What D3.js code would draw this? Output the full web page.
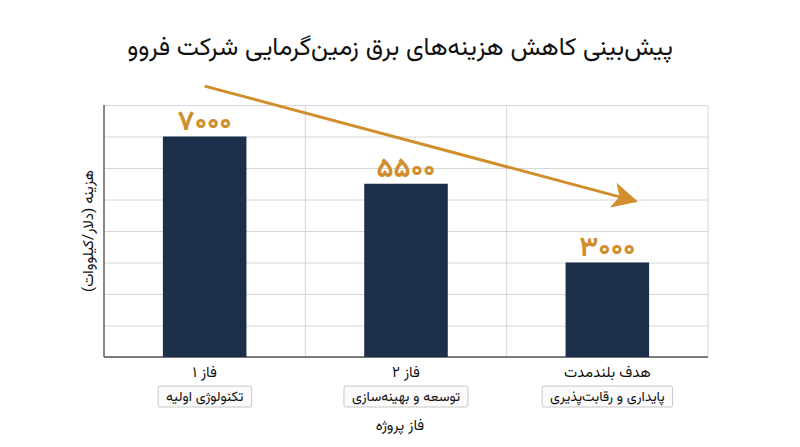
<!DOCTYPE html>
<html lang="fa" dir="rtl">
<head>
<meta charset="utf-8">
<script src="https://cdn.jsdelivr.net/npm/d3@7"></script>
<style>
  body { margin: 0; background: #fff; }
  svg { display: block; font-family: "Vazirmatn", "Noto Sans Arabic", "DejaVu Sans", sans-serif; }
</style>
</head>
<body>
<svg id="chart"></svg>
<script>
// data
const phases = ['فاز ۱', 'فاز ۲', 'هدف بلندمدت'];
const phaseNotes = ['تکنولوژی اولیه', 'توسعه و بهینه‌سازی', 'پایداری و رقابت‌پذیری'];
const costs = [7000, 5500, 3000];
const costLabels = ['۷۰۰۰', '۵۵۰۰', '۳۰۰۰'];
const yTicks = [0, 1000, 2000, 3000, 4000, 5000, 6000, 7000, 8000];
// trend arrow: [phase position, cost]
const trendArrow = [[0, 8600], [2.14, 4950]];

const width = 800, height = 447;
const margin = {top: 105, right: 92, bottom: 90, left: 104};
const innerW = width - margin.left - margin.right;
const innerH = height - margin.top - margin.bottom;

const svg = d3.select('#chart')
    .attr('width', width)
    .attr('height', height);

const chart = svg.append('g')
    .attr('transform', `translate(${margin.left}, ${margin.top})`);

const xscale = d3.scaleBand()
    .domain(d3.range(phases.length))
    .range([0, innerW])
    .padding(0);

const yscale = d3.scaleLinear()
    .domain([0, 8000])
    .range([innerH, 0]);

// index scale for the arrow (band centers)
const xpos = d3.scaleLinear()
    .domain([0, phases.length - 1])
    .range([xscale(0) + xscale.bandwidth() / 2, xscale(phases.length - 1) + xscale.bandwidth() / 2]);

// horizontal grid
chart.append('g')
    .call(d3.axisLeft(yscale).tickValues(yTicks).tickSize(-innerW).tickFormat(''))
    .call(g => g.select('.domain').remove())
    .call(g => g.selectAll('.tick line').attr('stroke', '#d6d6d6').attr('stroke-width', 1));

// vertical grid at band edges
chart.append('g')
    .selectAll('line')
    .data(d3.range(phases.length + 1))
    .join('line')
    .attr('x1', i => i * xscale.step())
    .attr('x2', i => i * xscale.step())
    .attr('y1', 0)
    .attr('y2', innerH)
    .attr('stroke', '#d6d6d6');

// axis lines
chart.append('line')
    .attr('x1', 0).attr('x2', 0).attr('y1', 0).attr('y2', innerH)
    .attr('stroke', '#666').attr('stroke-width', 1.5);
chart.append('line')
    .attr('x1', 0).attr('x2', innerW).attr('y1', innerH).attr('y2', innerH)
    .attr('stroke', '#555').attr('stroke-width', 1.5);

// bars
const barW = xscale.bandwidth() * 0.415;
chart.selectAll('rect.bar')
    .data(costs)
    .join('rect')
    .attr('class', 'bar')
    .attr('x', (d, i) => xscale(i) + (xscale.bandwidth() - barW) / 2)
    .attr('y', d => yscale(d))
    .attr('width', barW)
    .attr('height', d => innerH - yscale(d))
    .attr('fill', '#1b2f4b');

// value labels
chart.selectAll('text.value')
    .data(costs)
    .join('text')
    .attr('class', 'value')
    .attr('x', (d, i) => xscale(i) + xscale.bandwidth() / 2)
    .attr('y', d => yscale(d) - 7)
    .attr('text-anchor', 'middle')
    .attr('direction', 'ltr')
    .style('font-size', '28px')
    .style('font-weight', 'bold')
    .attr('fill', '#d08e2c')
    .text((d, i) => costLabels[i]);

// trend arrow
svg.append('defs').append('marker')
    .attr('id', 'head')
    .attr('viewBox', '0 0 10 10')
    .attr('refX', 9)
    .attr('refY', 5)
    .attr('markerWidth', 8.5)
    .attr('markerHeight', 8.5)
    .attr('markerUnits', 'strokeWidth')
    .attr('orient', 'auto')
    .append('path')
    .attr('d', 'M0,0 L10,5 L0,10 L2.5,5 Z')
    .attr('fill', '#d08e2c');

chart.append('line')
    .attr('x1', xpos(trendArrow[0][0]))
    .attr('y1', yscale(trendArrow[0][1]))
    .attr('x2', xpos(trendArrow[1][0]))
    .attr('y2', yscale(trendArrow[1][1]))
    .attr('stroke', '#d08e2c')
    .attr('stroke-width', 3)
    .attr('marker-end', 'url(#head)');

// category labels
const cats = chart.selectAll('g.cat')
    .data(phases)
    .join('g')
    .attr('class', 'cat')
    .attr('transform', (d, i) => `translate(${xscale(i) + xscale.bandwidth() / 2}, ${innerH})`);

cats.append('text')
    .attr('y', 20)
    .attr('text-anchor', 'middle')
    .style('font-size', '15px')
    .attr('fill', '#111')
    .text(d => d);

cats.each(function(d, i) {
    const g = d3.select(this);
    const t = g.append('text')
        .attr('y', 44)
        .attr('text-anchor', 'middle')
        .style('font-size', '14px')
        .attr('fill', '#111')
        .text(phaseNotes[i]);
    const bb = t.node().getBBox();
    g.insert('rect', 'text:last-child')
        .attr('x', bb.x - 8)
        .attr('y', 29)
        .attr('width', bb.width + 16)
        .attr('height', 21)
        .attr('rx', 2)
        .attr('fill', '#fafafa')
        .attr('stroke', '#c8c8c8');
});

// title
svg.append('text')
    .attr('x', width / 2)
    .attr('y', 55)
    .attr('text-anchor', 'middle')
    .style('font-size', '25px')
    .attr('fill', '#111')
    .text('پیش‌بینی کاهش هزینه‌های برق زمین‌گرمایی شرکت فروو');

// x label
svg.append('text')
    .attr('x', width / 2)
    .attr('y', 430)
    .attr('text-anchor', 'middle')
    .style('font-size', '15px')
    .attr('fill', '#111')
    .text('فاز پروژه');

// y label
svg.append('text')
    .attr('transform', `translate(88, ${margin.top + innerH / 2}) rotate(-90)`)
    .attr('text-anchor', 'middle')
    .attr('dy', '0.35em')
    .style('font-size', '15px')
    .attr('fill', '#111')
    .text('هزینه (دلار/کیلووات)');
</script>
</body>
</html>
